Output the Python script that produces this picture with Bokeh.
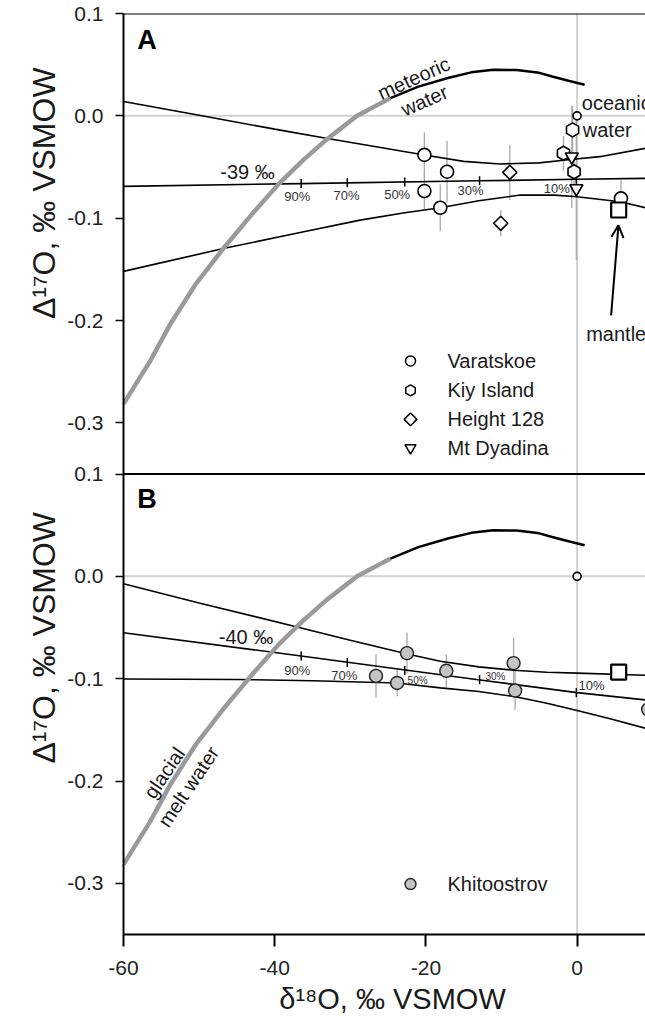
import numpy as np
from bokeh.plotting import figure
from bokeh.models import (FixedTicker, Span, Arrow, OpenHead, Range1d, PrintfTickFormatter)
from bokeh.layouts import row, column
from bokeh.embed import file_html
from bokeh.resources import INLINE
from bokeh.core.properties import value

# ---------------- data ----------------
x_ticks = [-60, -40, -20, 0]
y_ticks = [0.1, 0.0, -0.1, -0.2, -0.3]

# meteoric water line: grey part (glacial melt water) and black part
melt_x = [-60, -56.5, -53.9, -50.5, -46.8, -43.0, -39.4, -36.2, -33.2, -29.1, -24.7]
melt_y = [-0.2815, -0.240, -0.2047, -0.165, -0.1297, -0.096, -0.066, -0.043, -0.0235, 0.0, 0.0173]
meteoric_x = [-24.7, -21.0, -17.1, -14.0, -11.1, -8.0, -5.0, -3.3, -1.0, 1.0]
meteoric_y = [0.0173, 0.0285, 0.0369, 0.0425, 0.0450, 0.0448, 0.0420, 0.0385, 0.0340, 0.0303]

# Panel A mixing curves
a_upper_x = [-60, -50, -40, -33.2, -26, -20.2, -15, -10.2, -5, -1.5, 3.0, 9.05]
a_upper_y = [0.014, 0.0005, -0.013, -0.0219, -0.031, -0.0382, -0.0445, -0.0470, -0.0460, -0.0431, -0.0399, -0.0317]
a_mix_x = [-60, -36.5, -13.0, 0.0, 9.05]
a_mix_y = [-0.0689, -0.0662, -0.0635, -0.0620, -0.0611]
a_lower_x = [-60, -46.8, -36, -28.7, -23, -18.1, -13, -7.5, -3, 0.0, 5.7, 9.05]
a_lower_y = [-0.152, -0.1297, -0.113, -0.1019, -0.095, -0.0898, -0.0830, -0.0774, -0.0775, -0.0790, -0.0840, -0.0898]

mix_pct = ["90%", "70%", "50%", "30%", "10%"]
mix_tick_x = [-36.5, -30.4, -22.8, -12.9, -0.1]
a_mix_tick_y = [-0.0662, -0.0655, -0.0647, -0.0635, -0.0620]
a_pct_x = [-37.0, -30.5, -23.8, -14.1, -2.7]
a_pct_y = [-0.079, -0.078, -0.0768, -0.0725, -0.0709]

# Panel A samples
varatskoe_x = [-20.2, -17.2, -20.2, -18.1, 5.8]
varatskoe_y = [-0.0382, -0.0546, -0.0735, -0.0898, -0.0807]
varatskoe_err = [0.022, 0.030, 0.018, 0.023, 0.018]
kiy_x = [-1.8, -0.6, -0.4]
kiy_y = [-0.0366, -0.0137, -0.0546]
kiy_err = [0.017, 0.023, 0.012]
height128_x = [-8.9, -10.1]
height128_y = [-0.0552, -0.105]
height128_err = [0.027, 0.013]
dyadina_x = [-0.7, -0.1]
dyadina_y = [-0.040, -0.071]
dyadina_err = [0.05, 0.07]
ocean_x = [0.0]
ocean_y = [0.0]
mantle_x = [5.5]
mantle_y_a = [-0.092]
mantle_y_b = [-0.0936]
legend_a = ["Varatskoe", "Kiy Island", "Height 128", "Mt Dyadina"]

# Panel B mixing curves
b_upper_x = [-60, -50, -37.3, -30, -22.6, -18.1, -13, -8.4, -4, 0.0, 9.05]
b_upper_y = [-0.0072, -0.026, -0.049, -0.0625, -0.0757, -0.083, -0.0885, -0.0918, -0.0937, -0.0946, -0.0967]
b_mix_x = [-60, -36.5, -13.1, 0.0, 9.05]
b_mix_y = [-0.0552, -0.0778, -0.101, -0.1136, -0.1208]
b_lower_x = [-60, -45, -35, -23.8, -18.1, -13, -8.3, -4, 0.0, 4.5, 9.05]
b_lower_y = [-0.1003, -0.1008, -0.1020, -0.1042, -0.109, -0.1125, -0.1175, -0.124, -0.1312, -0.1395, -0.1485]
b_mix_tick_y = [-0.0778, -0.0842, -0.092, -0.101, -0.1136]
b_pct_x = [-37.0, -30.8, -21.1, -10.8, 1.9]
b_pct_y = [-0.092, -0.0973, -0.1019, -0.098, -0.107]
b_pct_size = ["13px", "13px", "10px", "10px", "13px"]

khit_x = [-26.6, -23.8, -22.5, -17.3, -8.4, -8.2, 9.4]
khit_y = [-0.0973, -0.1042, -0.0750, -0.0923, -0.0848, -0.1116, -0.1300]
khit_err = [0.021, 0.013, 0.020, 0.016, 0.025, 0.019, 0.0]
legend_b = ["Khitoostrov"]

y_title = "Δ¹⁷O, ‰ VSMOW"
x_title = "δ¹⁸O, ‰ VSMOW"

# ---------------- layout constants ----------------
FONT = "Liberation Sans"
PAGE_W, PAGE_H = 645, 1016
MAIN_H = 984                # height of the plot row; x title strip below it
TITLE_W = 62                # narrow strip holding the rotated y titles
FRAME_LEFT = 123            # page x of the plot frame's left edge
XMIN = -60.0
PX_X = 7.56
XMAX = XMIN + (PAGE_W - FRAME_LEFT) / PX_X
TOP, BOTTOM = 13, 50
SHIFT = 0.45                # panel height in y units (B sits one panel below A)
A_RANGE = (-0.35 - SHIFT, 0.1)
B_RANGE = (-0.35, 0.1 + SHIFT)


def page_x(px):
    return XMIN + (px - FRAME_LEFT) / PX_X


# ---------------- main figure (panels A and B share one frame) ----------------
p = figure(width=PAGE_W - TITLE_W, height=MAIN_H, x_range=Range1d(XMIN, XMAX),
           y_range=Range1d(*A_RANGE), output_backend="svg", toolbar_location=None,
           min_border_left=FRAME_LEFT - TITLE_W, min_border_right=0,
           min_border_top=TOP, min_border_bottom=BOTTOM)
p.extra_y_ranges = {"B": Range1d(*B_RANGE)}
p.outline_line_color = None
p.grid.visible = False

b_tick_pos = [round(v - SHIFT, 2) for v in y_ticks]
all_ticks = list(y_ticks) + b_tick_pos
overrides = {}
for v, t in zip(y_ticks, y_ticks):
    overrides[t] = f"{v:.1f}"
for v, t in zip(y_ticks, b_tick_pos):
    overrides[t] = f"{v:.1f}"

p.yaxis.ticker = FixedTicker(ticks=all_ticks)
p.yaxis.major_label_overrides = overrides
p.yaxis.minor_tick_line_color = None
p.yaxis.major_tick_in = 0
p.yaxis.major_tick_out = 8
p.yaxis.major_tick_line_width = 1.5
p.yaxis.axis_line_width = 2
p.yaxis.major_label_standoff = 12
p.yaxis.major_label_text_font = FONT
p.yaxis.major_label_text_font_size = "21px"
p.yaxis.major_label_text_color = "#222222"

p.xaxis.ticker = FixedTicker(ticks=x_ticks)
p.xaxis.formatter = PrintfTickFormatter(format="%d")
p.xaxis.minor_tick_line_color = None
p.xaxis.major_tick_in = 0
p.xaxis.major_tick_out = 12
p.xaxis.major_tick_line_width = 2
p.xaxis.axis_line_width = 2
p.xaxis.major_label_standoff = 14
p.xaxis.major_label_text_font = FONT
p.xaxis.major_label_text_font_size = "21px"
p.xaxis.major_label_text_color = "#222222"

# reference lines and frame lines
p.add_layout(Span(location=0, dimension="height", line_color="#d2d2d2",
                  line_width=2, level="underlay"))
p.add_layout(Span(location=0, dimension="width", line_color="#d2d2d2",
                  line_width=2, level="underlay"))
p.add_layout(Span(location=0, dimension="width", line_color="#d2d2d2",
                  line_width=2, level="underlay", y_range_name="B"))
p.add_layout(Span(location=0.1, dimension="width", line_color="black", line_width=2))
p.add_layout(Span(location=0.1, dimension="width", line_color="black", line_width=2,
                  y_range_name="B"))

mk = dict(fill_color="white", line_color="black", line_width=1.6)


def err_bars(xs, ys, errs, rn="default"):
    lo = [y - e for y, e in zip(ys, errs)]
    hi = [y + e for y, e in zip(ys, errs)]
    p.segment(x0=xs, y0=lo, x1=xs, y1=hi, line_color="#a9a9a9", line_width=1.3,
              y_range_name=rn)


def curves(ux, uy, mx, my, lx, ly, rn="default"):
    p.line(ux, uy, line_color="black", line_width=1.6, y_range_name=rn)
    p.line(mx, my, line_color="black", line_width=1.6, y_range_name=rn)
    p.line(lx, ly, line_color="black", line_width=1.6, y_range_name=rn)
    p.line(melt_x, melt_y, line_color="#9a9a9a", line_width=4.5, y_range_name=rn)
    p.line(meteoric_x, meteoric_y, line_color="black", line_width=2.5, y_range_name=rn)


def txt(x, y, s, size="20px", angle=0.0, align="left", color="#1a1a1a",
        style="normal", rn="default"):
    p.text(x=[x], y=[y], text=[s], angle=angle, text_align=align,
           text_baseline="middle", text_font=value(FONT), text_font_size=size,
           text_color=color, text_font_style=style, y_range_name=rn)


# ---------------- panel A ----------------
err_bars(varatskoe_x, varatskoe_y, varatskoe_err)
err_bars(kiy_x, kiy_y, kiy_err)
err_bars(height128_x, height128_y, height128_err)
err_bars(dyadina_x, dyadina_y, dyadina_err)
curves(a_upper_x, a_upper_y, a_mix_x, a_mix_y, a_lower_x, a_lower_y)
p.scatter(mix_tick_x, a_mix_tick_y, marker="dash", angle=np.pi / 2, size=9,
          line_color="black", line_width=1.5)
p.text(x=a_pct_x, y=a_pct_y, text=mix_pct, text_align="center", text_baseline="middle",
       text_font=value(FONT), text_font_size="13px", text_color="#333333")

p.scatter(varatskoe_x, varatskoe_y, marker="circle", size=13, **mk)
p.scatter(kiy_x, kiy_y, marker="hex", size=14, angle=np.pi / 2, **mk)
p.scatter(height128_x, height128_y, marker="square", size=10, angle=np.pi / 4, **mk)
p.scatter(dyadina_x, dyadina_y, marker="inverted_triangle", size=13, **mk)
p.scatter(ocean_x, ocean_y, marker="circle", size=8, **mk)
p.scatter(mantle_x, mantle_y_a, marker="square", size=15, fill_color="white",
          line_color="black", line_width=2.2)

txt(-21.6, 0.0368, "meteoric", angle=np.radians(24), align="center")
txt(-20.2, 0.0150, "water", angle=np.radians(24), align="center")
txt(0.62, 0.0123, "oceanic")
txt(0.75, -0.0137, "water")
txt(1.2, -0.213, "mantle")
txt(-43.6, -0.0546, "-39 ‰", align="center")
txt(-56.9, 0.0738, "A", size="27px", align="center", color="black", style="bold")
p.add_layout(Arrow(end=OpenHead(size=12, line_width=2), x_start=4.5, y_start=-0.195,
                   x_end=5.47, y_end=-0.107, line_width=2))

leg_rows_a = [-0.2395, -0.2682, -0.2966, -0.3244]
leg_mk = dict(fill_color="white", line_color="black", line_width=1.5)
p.scatter([page_x(410)], [leg_rows_a[0]], marker="circle", size=10, **leg_mk)
p.scatter([page_x(410)], [leg_rows_a[1]], marker="hex", size=11, angle=np.pi / 2, **leg_mk)
p.scatter([page_x(410)], [leg_rows_a[2]], marker="square", size=9, angle=np.pi / 4, **leg_mk)
p.scatter([page_x(410)], [leg_rows_a[3]], marker="inverted_triangle", size=11, **leg_mk)
p.text(x=[page_x(447)] * 4, y=leg_rows_a, text=legend_a, text_align="left",
       text_baseline="middle", text_font=value(FONT), text_font_size="20px",
       text_color="#1a1a1a")

# ---------------- panel B ----------------
err_bars(khit_x, khit_y, khit_err, "B")
curves(b_upper_x, b_upper_y, b_mix_x, b_mix_y, b_lower_x, b_lower_y, "B")
p.scatter(mix_tick_x, b_mix_tick_y, marker="dash", angle=np.pi / 2, size=9,
          line_color="black", line_width=1.5, y_range_name="B")
p.text(x=b_pct_x, y=b_pct_y, text=mix_pct, text_align="center", text_baseline="middle",
       text_font=value(FONT), text_font_size=b_pct_size, text_color="#333333",
       y_range_name="B")
p.scatter(khit_x, khit_y, marker="circle", size=13, fill_color="#c4c4c4",
          line_color="#222222", line_width=1.4, y_range_name="B")
p.scatter(ocean_x, ocean_y, marker="circle", size=8, y_range_name="B", **mk)
p.scatter(mantle_x, mantle_y_b, marker="square", size=15, fill_color="white",
          line_color="black", line_width=2.2, y_range_name="B")
txt(-43.8, -0.0588, "-40 ‰", align="center", rn="B")
txt(-54.6, -0.192, "glacial", angle=np.radians(56), align="center", rn="B")
txt(-51.4, -0.2055, "melt water", angle=np.radians(56), align="center", rn="B")
txt(-56.9, 0.0751, "B", size="27px", align="center", color="black", style="bold", rn="B")
p.scatter([page_x(410)], [-0.3007], marker="circle", size=11, fill_color="#c4c4c4",
          line_color="#222222", line_width=1.4, y_range_name="B")
p.text(x=[page_x(447)], y=[-0.3007], text=legend_b, text_align="left",
       text_baseline="middle", text_font=value(FONT), text_font_size="20px",
       text_color="#1a1a1a", y_range_name="B")

# ---------------- strip with the two rotated y-axis titles ----------------
t = figure(width=TITLE_W, height=MAIN_H, x_range=Range1d(0, TITLE_W),
           y_range=Range1d(0, MAIN_H), output_backend="svg", toolbar_location=None,
           min_border=0, x_axis_location=None, y_axis_location=None)
t.outline_line_color = None
t.grid.visible = False
title_centres = [MAIN_H - 192, MAIN_H - 667]   # page y 192 (panel A) and 667 (panel B)
t.text(x=[43, 43], y=title_centres, text=[y_title, y_title], angle=np.pi / 2,
       text_align="center", text_baseline="middle", text_font=value(FONT),
       text_font_size="32px", text_color="#1a1a1a")

# ---------------- strip with the x-axis title ----------------
XT_H = PAGE_H - MAIN_H
xt = figure(width=PAGE_W, height=XT_H, x_range=Range1d(0, PAGE_W),
            y_range=Range1d(0, XT_H), output_backend="svg", toolbar_location=None,
            min_border=0, x_axis_location=None, y_axis_location=None)
xt.outline_line_color = None
xt.grid.visible = False
xt.text(x=[392], y=[PAGE_H - 998], text=[x_title], text_align="center",
        text_baseline="middle", text_font=value(FONT), text_font_size="29px",
        text_color="#1a1a1a")

layout = column(row(t, p, spacing=0), xt, spacing=0)
open("out.html", "w").write(file_html(layout, INLINE))
